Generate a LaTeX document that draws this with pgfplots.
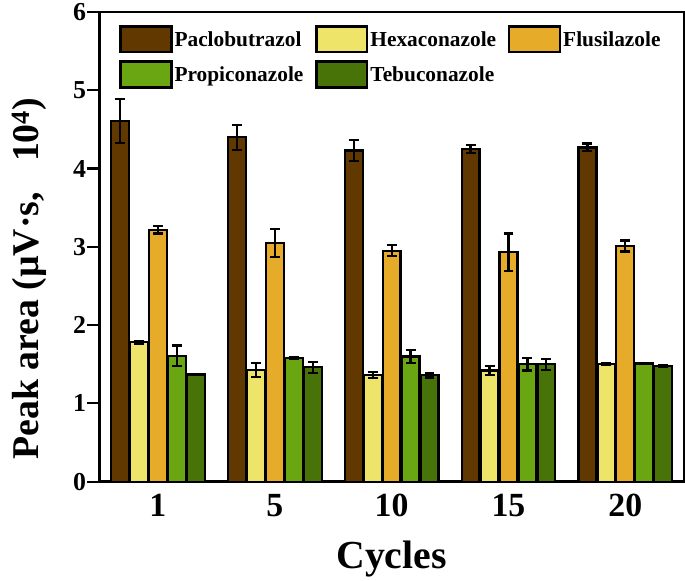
\documentclass[border=0pt]{standalone}
\usepackage{pgfplots}
\pgfplotsset{compat=1.18}
\usepackage{fontspec}
\setmainfont{Liberation Serif}
\definecolor{cPac}{RGB}{97,56,0}
\definecolor{cHex}{RGB}{238,228,106}
\definecolor{cFlu}{RGB}{231,171,42}
\definecolor{cPro}{RGB}{106,166,18}
\definecolor{cTeb}{RGB}{72,115,8}
\pgfplotsset{
  mybar/.style={draw=black, line width=2.2bp,
     /pgfplots/error bars/y dir=both, /pgfplots/error bars/y explicit,
     /pgfplots/error bars/error bar style={line width=2.2bp, black, solid},
     /pgfplots/error bars/error mark options={rotate=90, mark size=5bp, line width=2.2bp, black}},
}
\begin{document}
\begin{tikzpicture}
\begin{axis}[
  scale only axis, width=586bp, height=471bp,
  ybar=1bp, bar width=18bp,
  xmin=-0.5, xmax=4.5, ymin=0, ymax=6,
  xtick={0,1,2,3,4}, xticklabels={1,5,10,15,20},
  ytick={0,1,2,3,4,5,6},
  ytick pos=left,
  major x tick style={draw=none},
  ytick style={line width=2.2bp, black},
  tick align=outside, major tick length=12bp,
  axis line style={line width=2.4bp},
  /pgf/number format/assume math mode=true,
  yticklabel style={font=\bfseries\fontsize{26}{26}\selectfont, xshift=2bp},
  xticklabel style={font=\bfseries\fontsize{34}{34}\selectfont, yshift=3bp},
  ylabel={\rule{0pt}{35bp}Peak area (µV·s,\hspace{0.8em}10$^{\mathbf{4}}$)},
  xlabel={Cycles},
  ylabel style={font=\bfseries\fontsize{38}{40}\selectfont, yshift=20bp, xshift=-32bp},
  xlabel style={font=\bfseries\fontsize{40}{42}\selectfont, yshift=-17bp},
  legend columns=3,
  legend cell align=left,
  legend style={draw=none, fill=none, at={(0.034,0.972)}, anchor=north west,
     inner sep=0pt, font=\bfseries\fontsize{21.5}{23}\selectfont,
     row sep=7bp, column sep=0bp,
     /tikz/every even column/.append style={column sep=10bp}},
  legend image code/.code={\draw[#1, draw=black, line width=2.2bp] (0bp,-13bp) rectangle (51bp,13bp);},
]
\addplot[mybar, fill=cPac] coordinates {(0,4.61) +- (0,0.28) (1,4.40) +- (0,0.16) (2,4.23) +- (0,0.13) (3,4.25) +- (0,0.05) (4,4.27) +- (0,0.05)};
\addplot[mybar, fill=cHex] coordinates {(0,1.78) +- (0,0.02) (1,1.43) +- (0,0.09) (2,1.36) +- (0,0.04) (3,1.42) +- (0,0.06) (4,1.50) +- (0,0.01)};
\addplot[mybar, fill=cFlu] coordinates {(0,3.22) +- (0,0.05) (1,3.05) +- (0,0.18) (2,2.95) +- (0,0.07) (3,2.93) +- (0,0.24) (4,3.01) +- (0,0.07)};
\addplot[mybar, fill=cPro] coordinates {(0,1.61) +- (0,0.13) (1,1.58) +- (0,0.01) (2,1.60) +- (0,0.08) (3,1.50) +- (0,0.08) (4,1.51) +- (0,0.01)};
\addplot[mybar, fill=cTeb] coordinates {(0,1.37) +- (0,0.01) (1,1.46) +- (0,0.07) (2,1.36) +- (0,0.03) (3,1.50) +- (0,0.07) (4,1.48) +- (0,0.01)};
\legend{Paclobutrazol,Hexaconazole,Flusilazole,Propiconazole,Tebuconazole}
\end{axis}
\end{tikzpicture}
\end{document}
